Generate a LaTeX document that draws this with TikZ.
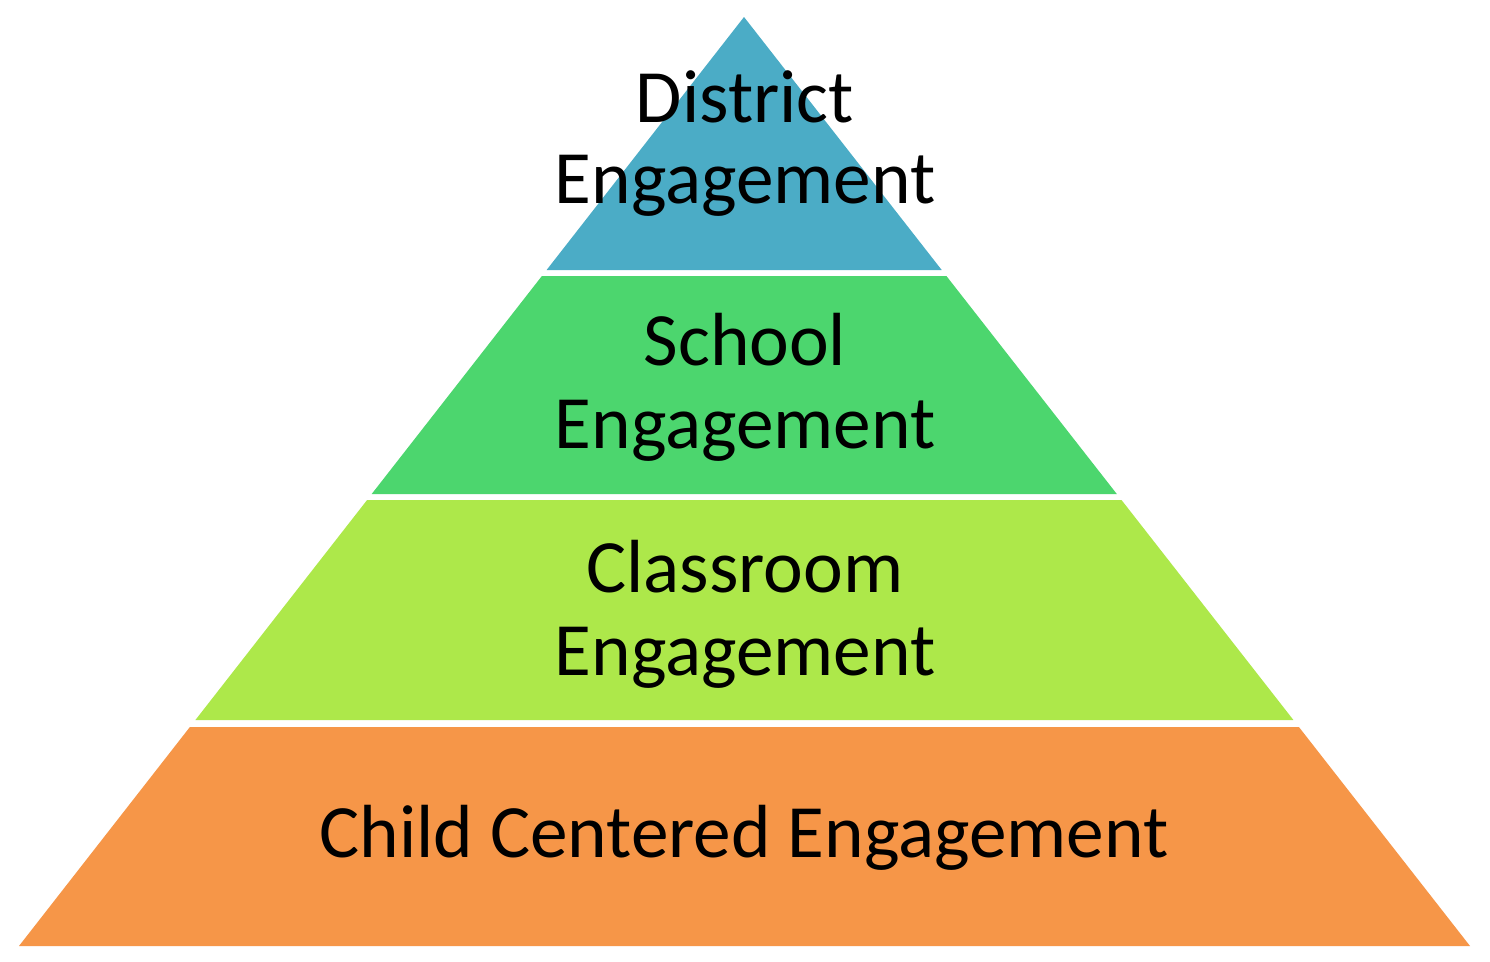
\documentclass[tikz,border=0pt]{standalone}
\usepackage{fontspec}
\setmainfont{Carlito}
\definecolor{cblue}{RGB}{75,172,198}
\definecolor{cgreen}{RGB}{76,214,110}
\definecolor{clime}{RGB}{173,232,74}
\definecolor{corange}{RGB}{246,150,72}
\begin{document}
\begin{tikzpicture}[x=1pt,y=-1pt,
  lbl/.style={anchor=base,inner sep=0pt,font=\fontsize{75.3}{81}\selectfont,text=black}]
\useasboundingbox[fill=white] (0,0) rectangle (1490,961);
% bands
\fill[cblue] (744,17) -- (941.7,270) -- (546.6,270) -- cycle;
\fill[cgreen] (541.9,276) -- (946.4,276) -- (1116.8,494) -- (371.7,494) -- cycle;
\fill[clime] (367.1,500) -- (1121.5,500) -- (1293.4,720) -- (195.4,720) -- cycle;
\fill[corange] (189.9,727) -- (1298.9,727) -- (1470,946) -- (19,946) -- cycle;
% labels
\node[lbl] (d1) at (745,122) {District};
\node[lbl] (d2) at (745,203) {Engagement};
\node[lbl] (s1) at (745,365) {School};
\node[lbl] (s2) at (745,448) {Engagement};
\node[lbl] (c1) at (745,592) {Classroom};
\node[lbl] (c2) at (745,675) {Engagement};
\node[lbl] (k1) at (744,857) {Child Centered Engagement};
\end{tikzpicture}
\end{document}
